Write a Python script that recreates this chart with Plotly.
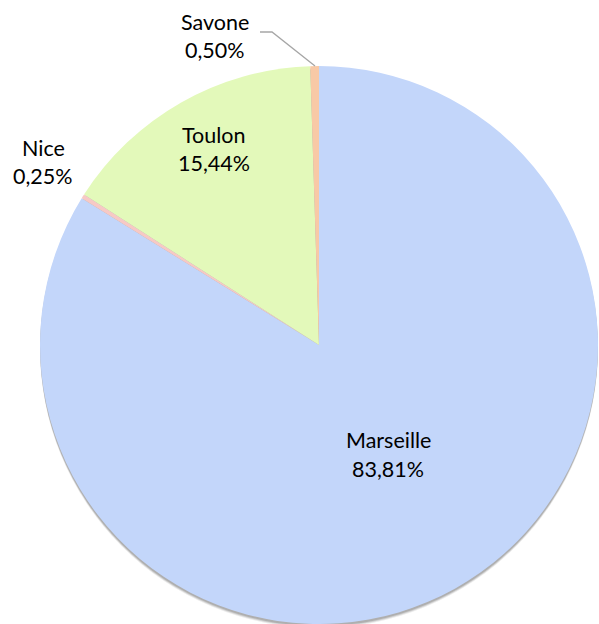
import plotly.graph_objects as go

labels = ["Marseille", "Nice", "Toulon", "Savone"]
values = [83.81, 0.25, 15.44, 0.50]
pct_text = ["83,81%", "0,25%", "15,44%", "0,50%"]
colors = ["#c3d6fa", "#f7c9c5", "#e3f9ba", "#f8c9a6"]

W, H = 599, 624
L, R, T, B = 40, 1, 66, 0
PW, PH = W - L - R, H - T - B


def px(x):
    return (x - L) / PW


def py(y):
    return 1 - (y - T) / PH


fig = go.Figure()
fig.add_trace(go.Pie(
    labels=labels, values=values, sort=False, direction="clockwise", rotation=0,
    textinfo="none", marker=dict(colors=colors, line=dict(width=0)),
    domain=dict(x=[0, 1], y=[0, 1]), showlegend=False,
))

# soft shadow under the pie
for off, a in [(4, 0.08), (3, 0.12), (2, 0.15)]:
    fig.add_shape(type="circle", xref="paper", yref="paper", layer="below",
                  x0=0, x1=1, y0=-off / PH, y1=1 - off / PH,
                  fillcolor=f"rgba(0,0,0,{a})", line=dict(width=0))

font = dict(family="Lato, Carlito, Calibri, sans-serif", size=21.5, color="#000000")
label_pos = {
    "Marseille": (388, 440, 469),
    "Toulon": (214, 135, 163),
    "Nice": (43, 148, 176),
    "Savone": (215, 22, 50),
}
ann = []
for lab, pt in zip(labels, pct_text):
    x, y1, y2 = label_pos[lab]
    ann.append(dict(x=px(x), y=py(y1), xref="paper", yref="paper", text=lab,
                    showarrow=False, font=font, xanchor="center", yanchor="middle"))
    ann.append(dict(x=px(x), y=py(y2), xref="paper", yref="paper", text=pt,
                    showarrow=False, font=font, xanchor="center", yanchor="middle"))
fig.update_layout(annotations=ann)

# leader line for Savone
fig.add_shape(type="path", xref="paper", yref="paper",
              path=f"M {px(260)},{py(32)} L {px(272)},{py(32)} L {px(315)},{py(66)}",
              line=dict(color="#a6a6a6", width=1.3))

fig.update_layout(width=W, height=H, margin=dict(l=L, r=R, t=T, b=B),
                  paper_bgcolor="white", plot_bgcolor="white")
fig.write_html("out.html", config={"displayModeBar": False},
               post_script="document.body.style.margin='0';")
